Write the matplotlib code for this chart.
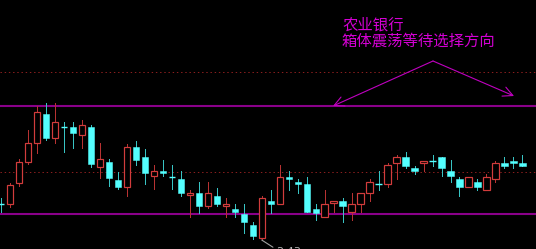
import matplotlib
matplotlib.use("Agg")
import matplotlib.pyplot as plt
from matplotlib.patches import Rectangle

# Daily OHLC prices, oldest first
opens = [2.519, 2.520, 2.573, 2.625, 2.673, 2.745, 2.686, 2.712, 2.712, 2.693,
         2.712, 2.613, 2.626, 2.580, 2.562, 2.662, 2.637, 2.589, 2.602, 2.588,
         2.582, 2.542, 2.548, 2.516, 2.541, 2.516, 2.507, 2.495, 2.468, 2.434,
         2.528, 2.521, 2.588, 2.576, 2.569, 2.508, 2.488, 2.522, 2.528, 2.501,
         2.521, 2.548, 2.569, 2.569, 2.623, 2.637, 2.609, 2.623, 2.628, 2.637,
         2.602, 2.582, 2.562, 2.576, 2.556, 2.582, 2.622, 2.628, 2.622]
highs = [2.534, 2.573, 2.633, 2.705, 2.765, 2.773, 2.773, 2.725, 2.724, 2.730,
         2.718, 2.672, 2.632, 2.601, 2.670, 2.678, 2.657, 2.617, 2.630, 2.618,
         2.602, 2.556, 2.576, 2.576, 2.561, 2.534, 2.520, 2.520, 2.476, 2.541,
         2.555, 2.618, 2.603, 2.582, 2.588, 2.520, 2.555, 2.528, 2.534, 2.547,
         2.548, 2.582, 2.603, 2.623, 2.643, 2.649, 2.616, 2.628, 2.643, 2.637,
         2.630, 2.588, 2.588, 2.582, 2.595, 2.628, 2.637, 2.637, 2.643]
lows = [2.501, 2.513, 2.565, 2.620, 2.648, 2.680, 2.673, 2.651, 2.659, 2.659,
        2.613, 2.586, 2.566, 2.558, 2.541, 2.618, 2.569, 2.557, 2.589, 2.557,
        2.541, 2.488, 2.497, 2.509, 2.516, 2.488, 2.488, 2.447, 2.432, 2.430,
        2.497, 2.521, 2.555, 2.547, 2.501, 2.480, 2.488, 2.501, 2.474, 2.480,
        2.501, 2.528, 2.555, 2.562, 2.582, 2.609, 2.596, 2.603, 2.616, 2.590,
        2.576, 2.541, 2.562, 2.555, 2.556, 2.576, 2.609, 2.609, 2.616]
closes = [2.519, 2.568, 2.626, 2.673, 2.751, 2.686, 2.725, 2.712, 2.698, 2.718,
          2.619, 2.632, 2.586, 2.562, 2.662, 2.630, 2.597, 2.602, 2.597, 2.588,
          2.548, 2.548, 2.516, 2.548, 2.521, 2.521, 2.501, 2.475, 2.439, 2.534,
          2.521, 2.588, 2.582, 2.569, 2.501, 2.497, 2.520, 2.528, 2.515, 2.520,
          2.548, 2.576, 2.569, 2.618, 2.637, 2.616, 2.603, 2.628, 2.628, 2.609,
          2.590, 2.562, 2.588, 2.562, 2.588, 2.622, 2.616, 2.623, 2.616]

box_levels = [2.766, 2.496]          # consolidation box
grid_levels = [2.60, 2.85]           # dotted price grid
low_label = "2.43"
title_lines = ["农业银行", "箱体震荡等待选择方向"]

UP_EDGE = "#d23c3c"
UP_WICK = "#b83232"
DOWN_BODY = "#54ffff"
DOWN_WICK = "#38c4c4"
MAGENTA = "#8a008a"
TEXT_MAGENTA = "#d400d4"
PX = 0.72  # one pixel in points at 100 dpi

fig = plt.figure(figsize=(5.36, 2.49), dpi=100, facecolor="black")
ax = fig.add_axes([0, 0, 1, 1], facecolor="black")
ax.set_xlim(-0.111, 59.51)
ax.set_ylim(2.4075, 3.03)
ax.axis("off")

for lvl in grid_levels:
    ax.axhline(lvl, color="#8c1e1e", lw=PX, dashes=(1.4, 2.8), zorder=1)
for lvl in box_levels:
    ax.axhline(lvl, color=MAGENTA, lw=1.5, zorder=1)

w = 0.70
for i, (o, h, l, c) in enumerate(zip(opens, highs, lows, closes)):
    top, bot = max(o, c), min(o, c)
    if c > o:
        ax.plot([i, i], [top, h], color=UP_WICK, lw=PX, zorder=2)
        ax.plot([i, i], [l, bot], color=UP_WICK, lw=PX, zorder=2)
        ax.add_patch(Rectangle((i - w / 2, bot), w, top - bot,
                               facecolor="black", edgecolor=UP_EDGE,
                               lw=PX * 1.2, zorder=3))
    else:
        ax.plot([i, i], [l, h], color=DOWN_WICK, lw=PX, zorder=2)
        if top - bot < 0.002:
            ax.plot([i - w / 2, i + w / 2], [o, o], color=DOWN_BODY,
                    lw=PX * 1.4, zorder=3, solid_capstyle="butt")
        else:
            ax.add_patch(Rectangle((i - w / 2, bot), w, top - bot,
                                   facecolor=DOWN_BODY, edgecolor=DOWN_BODY,
                                   lw=PX * 0.5, zorder=3))

# lowest price marker
low_i = min(range(len(lows)), key=lambda k: lows[k])
ax.annotate(low_label, xy=(low_i, lows[low_i]), xytext=(14, -7),
            textcoords="offset pixels", ha="left", va="top",
            color="#b4b4b4", fontsize=8, family=["DejaVu Sans"],
            arrowprops=dict(arrowstyle="-", color="#a0a0a0", lw=0.8,
                            shrinkA=0, shrinkB=0, relpos=(0, 0.8)))

# annotation text
H = 249
fig.text(342 / 536, 1 - 29.5 / H, title_lines[0], color=TEXT_MAGENTA,
         fontsize=11.1, family=["Noto Sans CJK SC"], va="baseline", ha="left")
fig.text(342 / 536, 1 - 46 / H, title_lines[1], color=TEXT_MAGENTA,
         fontsize=11.1, family=["Noto Sans CJK SC"], va="baseline", ha="left")

# direction arrows from a common apex
apex = (433, H - 61)
for tip in [(333, H - 106), (514, H - 96)]:
    ax.annotate("", xy=tip, xycoords="figure pixels", xytext=apex,
                textcoords="figure pixels",
                arrowprops=dict(arrowstyle="->,head_length=0.5,head_width=0.25",
                                color="#c000c0", lw=0.8, mutation_scale=14,
                                shrinkA=0, shrinkB=0))

fig.savefig("out.png", dpi=100, facecolor="black")
